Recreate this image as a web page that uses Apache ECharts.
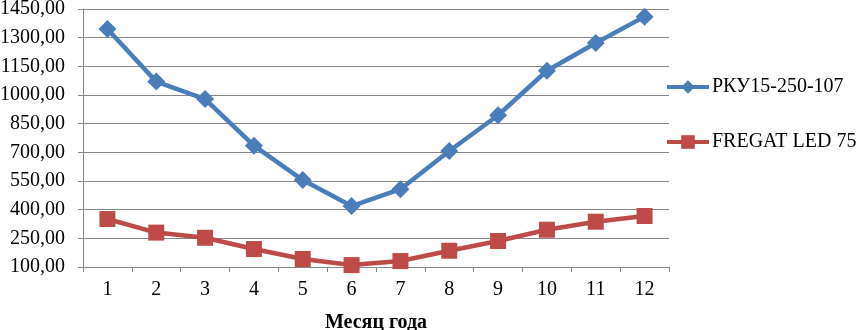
<!DOCTYPE html>
<html>
<head>
<meta charset="utf-8">
<script src="https://cdn.jsdelivr.net/npm/echarts@6/dist/echarts.min.js"></script>
<style>
  html, body { margin: 0; padding: 0; background: #fff; }
  #chart { width: 857px; height: 330px; }
</style>
</head>
<body>
<div id="chart"></div>
<script>
// months
const months = ['1', '2', '3', '4', '5', '6', '7', '8', '9', '10', '11', '12']
// РКУ15-250-107
const rkuValues = [1345, 1070, 979, 735, 555, 419, 507, 707, 894, 1127, 1272, 1410]
// FREGAT LED 75
const fregatValues = [351, 280, 253, 194, 142, 110, 131, 185, 236, 295, 337, 367]
const seriesNames = ['РКУ15-250-107', 'FREGAT LED 75']

const font = 'Liberation Serif'
const gridColor = '#868686'

const chart = echarts.init(document.getElementById('chart'))
chart.setOption({
  animation: false,
  grid: { left: 83, right: 188, top: 9, bottom: 63, containLabel: false, outerBoundsMode: 'none' },
  legend: {
    data: seriesNames,
    orient: 'vertical',
    left: 660,
    top: 72,
    itemWidth: 42,
    itemHeight: 17,
    itemGap: 35,
    lineStyle: { width: 4 },
    textStyle: { fontFamily: font, fontSize: 20, color: '#000', padding: [0, 0, 0, -2] }
  },
  xAxis: {
    type: 'category',
    data: months,
    boundaryGap: true,
    name: 'Месяц года',
    nameLocation: 'middle',
    nameGap: 46,
    nameTextStyle: { fontFamily: font, fontSize: 20, fontWeight: 'bold', color: '#000' },
    axisLine: { lineStyle: { color: gridColor, width: 1 } },
    axisTick: { show: true, length: 5, lineStyle: { color: gridColor } },
    axisLabel: { fontFamily: font, fontSize: 20, color: '#000', margin: 13 }
  },
  yAxis: {
    type: 'value',
    min: 100,
    max: 1450,
    interval: 150,
    axisLine: { show: true, lineStyle: { color: gridColor, width: 1 } },
    axisTick: { show: true, length: 5, lineStyle: { color: gridColor } },
    splitLine: { lineStyle: { color: gridColor, width: 1 } },
    axisLabel: {
      fontFamily: font,
      fontSize: 20,
      color: '#000',
      margin: 18,
      formatter: v => v.toFixed(2).replace('.', ',')
    }
  },
  series: [
    {
      name: seriesNames[0],
      type: 'line',
      data: rkuValues,
      symbol: 'diamond',
      symbolSize: 18,
      itemStyle: { color: '#4A7EBB' },
      lineStyle: { color: '#4A7EBB', width: 4.5 }
    },
    {
      name: seriesNames[1],
      type: 'line',
      data: fregatValues,
      symbol: 'rect',
      symbolSize: 16,
      itemStyle: { color: '#BE4B48' },
      lineStyle: { color: '#BE4B48', width: 4.5 }
    }
  ]
})
</script>
</body>
</html>
